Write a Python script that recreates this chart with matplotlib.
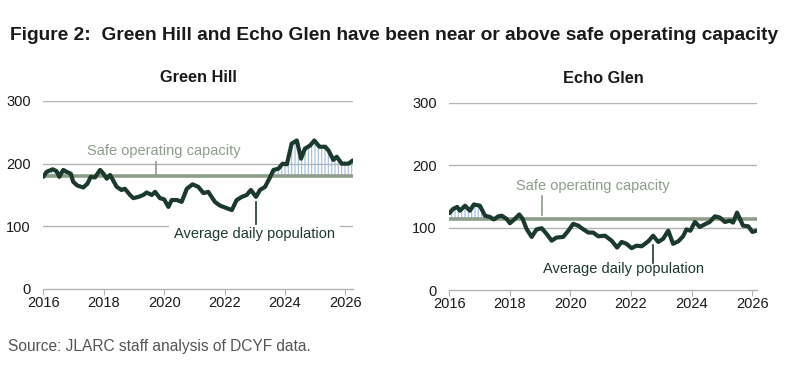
import matplotlib
matplotlib.use("Agg")
import matplotlib.pyplot as plt
import numpy as np

plt.rcParams['font.family'] = ['Liberation Sans', 'DejaVu Sans']
plt.rcParams['hatch.linewidth'] = 0.8

# ---- data ----
gh_years = [2016.00, 2016.11, 2016.31, 2016.44, 2016.53, 2016.66, 2016.77, 2016.91, 2016.99, 2017.13,
            2017.32, 2017.46, 2017.57, 2017.71, 2017.88, 2017.99, 2018.10, 2018.21, 2018.43, 2018.59,
            2018.70, 2018.87, 2018.98, 2019.15, 2019.31, 2019.42, 2019.59, 2019.70, 2019.86, 2020.00,
            2020.14, 2020.25, 2020.42, 2020.58, 2020.75, 2020.94, 2021.13, 2021.30, 2021.46, 2021.68,
            2021.85, 2022.07, 2022.24, 2022.40, 2022.57, 2022.73, 2022.87, 2023.04, 2023.17, 2023.34,
            2023.48, 2023.62, 2023.78, 2023.92, 2024.06, 2024.22, 2024.39, 2024.53, 2024.66, 2024.83,
            2024.97, 2025.14, 2025.33, 2025.44, 2025.60, 2025.71, 2025.88, 2026.10, 2026.24]
gh_pop = [179, 187, 191, 188, 179, 190, 187, 184, 171, 165,
          162, 168, 179, 178, 190, 184, 176, 182, 163, 158,
          160, 150, 145, 147, 150, 154, 150, 155, 145, 143,
          131, 142, 142, 139, 160, 167, 163, 153, 155, 139,
          133, 129, 126, 142, 147, 150, 158, 147, 158, 163,
          176, 190, 192, 200, 199, 232, 237, 208, 224, 229,
          237, 227, 227, 221, 206, 211, 200, 200, 205]
gh_capacity = 180

eg_years = [2016.00, 2016.13, 2016.26, 2016.35, 2016.52, 2016.68, 2016.81, 2017.01, 2017.18, 2017.34,
            2017.47, 2017.62, 2017.73, 2017.89, 2018.00, 2018.17, 2018.31, 2018.42, 2018.55, 2018.72,
            2018.88, 2019.05, 2019.21, 2019.38, 2019.54, 2019.76, 2019.93, 2020.09, 2020.26, 2020.40,
            2020.59, 2020.75, 2020.92, 2021.14, 2021.36, 2021.54, 2021.69, 2021.85, 2022.02, 2022.18,
            2022.35, 2022.57, 2022.73, 2022.90, 2023.06, 2023.23, 2023.39, 2023.56, 2023.72, 2023.83,
            2023.96, 2024.11, 2024.27, 2024.47, 2024.60, 2024.77, 2024.93, 2025.10, 2025.26, 2025.37,
            2025.50, 2025.70, 2025.87, 2026.01, 2026.14]
eg_pop = [123, 130, 133, 127, 135, 127, 137, 135, 119, 117,
          113, 118, 119, 114, 107, 114, 121, 114, 98, 85,
          97, 99, 90, 79, 84, 85, 95, 106, 103, 98,
          92, 92, 86, 87, 79, 68, 77, 74, 67, 71,
          70, 78, 87, 77, 82, 95, 74, 78, 86, 97,
          95, 109, 101, 106, 109, 118, 116, 109, 111, 108,
          124, 103, 102, 93, 95]
eg_capacity = 114

panels = ["Green Hill", "Echo Glen"]
year_ticks = [2016, 2018, 2020, 2022, 2024, 2026]
y_ticks = [0, 100, 200, 300]

title = "Figure 2:  Green Hill and Echo Glen have been near or above safe operating capacity"
source = "Source: JLARC staff analysis of DCYF data."

LINE = "#1b3a2d"
CAP = "#8c9d8a"
GRID = "#b3b3b3"
HATCH = "#9fbad9"
TXT = "#1a1a1a"

fig = plt.figure(figsize=(8, 3.78), dpi=100)
fig.text(10/800, 1 - 35/378, title, fontsize=13.8, fontweight='bold', color=TXT, va='center', ha='left')
fig.text(8/800, 1 - 347/378, source, fontsize=11.2, color="#555555", va='center', ha='left')

axL = fig.add_axes([43.3/800, 1 - 289/378, (352.7 - 43.3)/800, (289 - 101)/378])
axR = fig.add_axes([449.3/800, 1 - 290/378, (757 - 449.3)/800, (290 - 102.7)/378])

configs = [
    (axL, gh_years, gh_pop, gh_capacity, 2026.24,
     (2020.0, 221), (2019.73, 203, 181), (2023.0, 88), (2023.03, 104, 139)),
    (axR, eg_years, eg_pop, eg_capacity, 2026.16,
     (2020.75, 166), (2019.05, 150, 120), (2021.76, 33), (2022.73, 44, 72)),
]

for name, (ax, xs, ys, cap, xmax, safe_pos, safe_lead, adp_pos, adp_lead) in zip(panels, configs):
    xs = np.array(xs); ys = np.array(ys, dtype=float)
    ax.set_xlim(2016, xmax)
    ax.set_ylim(0, 300)
    for s in ['top', 'right', 'left']:
        ax.spines[s].set_visible(False)
    ax.spines['bottom'].set_color(GRID)
    ax.spines['bottom'].set_linewidth(1)
    for g in y_ticks[1:]:
        ax.axhline(g, color=GRID, lw=1, zorder=1)
    ax.set_xticks(year_ticks)
    ax.set_xticklabels([str(y) for y in year_ticks])
    ax.set_yticks(y_ticks)
    ax.tick_params(axis='x', length=4, color=GRID, pad=1, labelsize=10.5, labelcolor=TXT)
    ax.tick_params(axis='y', length=0, pad=9, labelsize=10.5, labelcolor=TXT)
    ax.fill_between(xs, cap, ys, where=ys > cap, interpolate=True, facecolor='none',
                    edgecolor=HATCH, hatch='|||||', linewidth=0, zorder=2)
    ax.axhline(cap, color=CAP, lw=2.6, zorder=3)
    ax.plot(xs, ys, color=LINE, lw=3.0, solid_joinstyle='round', solid_capstyle='round', zorder=5)
    ax.set_title(name, fontsize=11.8, fontweight='bold', color=TXT, pad=14)
    ax.text(safe_pos[0], safe_pos[1], "Safe operating capacity", fontsize=10.5, color=CAP,
            ha='center', va='center', zorder=4,
            bbox=dict(boxstyle='square,pad=0.35', facecolor='white', edgecolor='none'))
    ax.plot([safe_lead[0], safe_lead[0]], [safe_lead[1], safe_lead[2]], color=CAP, lw=1.2, zorder=4)
    ax.text(adp_pos[0], adp_pos[1], "Average daily population", fontsize=10.5, color=LINE,
            ha='center', va='center', zorder=4,
            bbox=dict(boxstyle='square,pad=0.35', facecolor='white', edgecolor='none'))
    ax.plot([adp_lead[0], adp_lead[0]], [adp_lead[1], adp_lead[2]], color=LINE, lw=1.2, zorder=4)

fig.savefig("out.png", dpi=100, facecolor='white')
